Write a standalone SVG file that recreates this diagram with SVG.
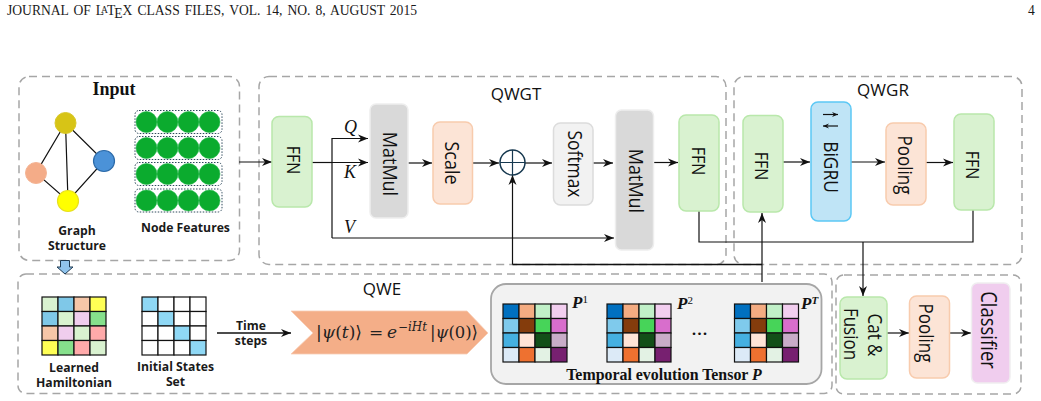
<svg xmlns="http://www.w3.org/2000/svg" xmlns:xlink="http://www.w3.org/1999/xlink" width="1041" height="401" viewBox="0 0 1041 401">
<style>
.hdr{font-family:"Liberation Serif",serif;font-size:13.6px;fill:#1a1a1a}
.panel{fill:none;stroke:#a6a6a6;stroke-width:1.5;stroke-dasharray:8 5}
.title{font-family:"Open Sans",sans-serif;font-size:17px;fill:#111;text-anchor:middle}
.cap{font-family:"Open Sans",sans-serif;font-size:12.2px;font-weight:700;fill:#1a1a1a;text-anchor:middle}
.blk{stroke-width:1.5}
.ffn{fill:#d9f2d0;stroke:#b9e8ab}
.gry{fill:#d9d9d9;stroke:#eeeeee}
.org{fill:#fce4d6;stroke:#f8cbad}
.sft{fill:#f2f2f2;stroke:#dcdcdc}
.gru{fill:#bfe4f6;stroke:#5cc8f5}
.cls{fill:#f0cdee;stroke:#f0eef0}
.rt{font-family:"Open Sans",sans-serif;fill:#111;text-anchor:middle}
.conn{fill:none;stroke:#111;stroke-width:1.2}
.thick{stroke-width:1.7}
.arr{marker-end:url(#a)}
.qkv{font-family:"Liberation Serif",serif;font-style:italic;font-size:18px;fill:#111}
.p{font-family:"Liberation Serif",serif;font-style:italic;font-weight:700;font-size:17px;fill:#111}
.ps{font-size:11px}
.eq{font-family:"DejaVu Serif",serif;font-size:17px;fill:#222}
.eqs{font-family:"DejaVu Serif",serif;font-size:12px;font-style:italic;fill:#222}
.cell{stroke:#111;stroke-width:1.2}
.dot{fill:none;stroke:#2f4a5c;stroke-width:1;stroke-dasharray:1.5 1.5}
.g{fill:#0bab2e;stroke:#22b84a;stroke-width:.6}
.edge{stroke:#111;stroke-width:1.2}
</style>
<defs>
<marker id="a" markerUnits="userSpaceOnUse" markerWidth="12" markerHeight="10" refX="10" refY="5" orient="auto"><path d="M0,1 L10,5 L0,9 L3,5 Z" fill="#111"/></marker>
<marker id="s" markerUnits="userSpaceOnUse" markerWidth="8" markerHeight="6" refX="6" refY="3" orient="auto"><path d="M0,.5 L6,3 L0,5.5 L2,3 Z" fill="#111"/></marker>
<g id="gridT">
<rect class="cell" width="16" height="14.5" fill="#0070c0"/><rect class="cell" x="16" width="16" height="14.5" fill="#f4ac82"/><rect class="cell" x="32" width="16" height="14.5" fill="#c1f0c8"/><rect class="cell" x="48" width="16" height="14.5" fill="#f2ceef"/>
<rect class="cell" y="14.5" width="16" height="14.5" fill="#7fcaec"/><rect class="cell" x="16" y="14.5" width="16" height="14.5" fill="#843c0c"/><rect class="cell" x="32" y="14.5" width="16" height="14.5" fill="#47d459"/><rect class="cell" x="48" y="14.5" width="16" height="14.5" fill="#d86ecc"/>
<rect class="cell" y="29" width="16" height="14.5" fill="#45b0e1"/><rect class="cell" x="16" y="29" width="16" height="14.5" fill="#ffe4d6"/><rect class="cell" x="32" y="29" width="16" height="14.5" fill="#124f18"/><rect class="cell" x="48" y="29" width="16" height="14.5" fill="#c9acc8"/>
<rect class="cell" y="43.5" width="16" height="14.5" fill="#dceaf7"/><rect class="cell" x="16" y="43.5" width="16" height="14.5" fill="#ee7130"/><rect class="cell" x="32" y="43.5" width="16" height="14.5" fill="#e3f2e4"/><rect class="cell" x="48" y="43.5" width="16" height="14.5" fill="#772070"/>
</g>
<g id="row"><rect class="dot" x="135" y="-11.5" width="87" height="23" rx="4"/><circle class="g" cx="146.500" r="10.500"/><circle class="g" cx="167.500" r="10.500"/><circle class="g" cx="188.500" r="10.500"/><circle class="g" cx="209.500" r="10.500"/></g>
</defs>
<rect width="1041" height="401" fill="#fff"/>
<text class="hdr" x="7" y="15" word-spacing="1.6">JOURNAL OF L<tspan font-size="9.5" dx="-3" dy="-2.5">A</tspan><tspan dx="-1" dy="2.500">T</tspan><tspan dx="-1" dy="3">E</tspan><tspan dy="-3">X CLASS FILES, VOL. 14, NO. 8, AUGUST 2015</tspan></text>
<text class="hdr" x="1028" y="15">4</text>

<g id="panels">
<rect class="panel" x="19" y="76.500" width="220.500" height="184" rx="10"/>
<rect class="panel" x="259" y="76.500" width="467" height="188" rx="10"/>
<rect class="panel" x="734" y="76.500" width="288" height="188" rx="10"/>
<rect class="panel" x="18" y="274" width="814" height="119.500" rx="8"/>
<rect class="panel" x="836" y="275" width="185" height="119" rx="8"/>
<text class="title" x="516" y="100">QWGT</text>
<text class="title" x="883" y="96">QWGR</text>
<text class="title" x="382" y="295">QWE</text>
</g>

<g id="input">
<text x="114" y="95" font-family="Liberation Serif,serif" font-size="18" font-weight="700" text-anchor="middle" fill="#111">Input</text>
<g id="graph">
<path class="edge" d="M65.500,123 L36,173 L68,201 L104,161 L65.500,123 L68,201" fill="none"/>
<circle cx="65.500" cy="123" r="10.500" fill="#d7c416" stroke="#d9c82a"/>
<circle cx="36" cy="173" r="10.500" fill="#f4ac88" stroke="#f4b595"/>
<circle cx="104" cy="161" r="10.500" fill="#4b92d8" stroke="#2c6aa8" stroke-width="1.200"/>
<circle cx="68" cy="201" r="10.500" fill="#ffff00" stroke="#e8e020" stroke-width="1.200"/>
<text class="cap" x="77" y="235">Graph</text><text class="cap" x="77" y="250">Structure</text>
</g>
<g id="features">
<use xlink:href="#row" y="122"/><use xlink:href="#row" y="148"/><use xlink:href="#row" y="174"/><use xlink:href="#row" y="200.500"/>
<text class="cap" x="185.500" y="232">Node Features</text>
</g>
</g>

<g id="connectors">
<path class="conn arr" d="M239,162 H272"/>
<path class="conn" d="M312,162.500 H332"/>
<path class="conn arr" d="M332,162.500 H368"/>
<path class="conn arr" d="M332,238 V138.500 H368"/>
<path class="conn arr" d="M332,238 H614"/>
<path class="conn arr" d="M408,163 H432"/>
<path class="conn arr" d="M472,163 H499"/>
<path class="conn arr" d="M525,163 H552"/>
<path class="conn arr" d="M593,163 H613"/>
<path class="conn arr" d="M653,162.500 H678"/>
<path class="conn arr" d="M783,162 H810"/>
<path class="conn arr" d="M851,162 H885"/>
<path class="conn arr" d="M926,162.500 H953"/>
<path class="conn arr" d="M512.500,264.500 V175"/>
<path class="conn thick" d="M512.500,264.500 H762"/>
<path class="conn arr" d="M762,282 V213"/>
<path class="conn" d="M699,211 V242 H973 V210"/>
<path class="conn arr" d="M863,242 V296"/>
<path class="conn arr" d="M887,333 H909"/>
<path class="conn arr" d="M949,333 H971"/>
<path class="conn arr thick" d="M217,333 H291"/>
</g>

<g id="ffn1"><rect class="blk ffn" x="272" y="116.500" width="40" height="90.500" rx="7"/><text class="rt" font-size="16" transform="translate(287,160) rotate(90) scale(1,1.15)">FFN</text></g>
<g id="matmul1"><rect class="blk gry" x="370" y="104" width="38" height="114" rx="6"/><text class="rt" font-size="18" transform="translate(383,164) rotate(90) scale(1,1.15)">MatMul</text></g>
<g id="scale"><rect class="blk org" x="433" y="122" width="39.500" height="82" rx="7"/><text class="rt" font-size="18" transform="translate(445,163) rotate(90) scale(1,1.15)">Scale</text></g>
<g id="add"><circle cx="512.500" cy="162.500" r="12.500" fill="#fff" stroke="#16384f" stroke-width="1.500"/><path d="M500,162.500 H525 M512.500,150 V175" stroke="#16384f" stroke-width="1.200" fill="none"/></g>
<g id="softmax"><rect class="blk sft" x="553.500" y="123" width="39.500" height="82" rx="7"/><text class="rt" font-size="17.400" transform="translate(568,164) rotate(90) scale(1,1.15)">Softmax</text></g>
<g id="matmul2"><rect class="blk gry" x="615.500" y="110" width="38" height="140" rx="6"/><text class="rt" font-size="18" transform="translate(629,181) rotate(90) scale(1,1.15)">MatMul</text></g>
<g id="ffn2"><rect class="blk ffn" x="679" y="115" width="40" height="96" rx="7"/><text class="rt" font-size="16" transform="translate(692,161) rotate(90) scale(1,1.15)">FFN</text></g>
<g id="ffn3"><rect class="blk ffn" x="743" y="115.500" width="40" height="96.500" rx="7"/><text class="rt" font-size="16" transform="translate(755,166) rotate(90) scale(1,1.15)">FFN</text></g>
<g id="bigru"><rect class="blk gru" x="811" y="102" width="40" height="119" rx="7"/><text class="rt" font-size="17.400" transform="translate(824,167) rotate(90) scale(1,1.15)">BiGRU</text>
<path class="conn" marker-end="url(#s)" d="M823,114.500 H838"/><path class="conn" marker-end="url(#s)" d="M838,126 H823"/></g>
<g id="pooling1"><rect class="blk org" x="886" y="123" width="40" height="82" rx="7"/><text class="rt" font-size="17" transform="translate(898,165) rotate(90) scale(1,1.15)">Pooling</text></g>
<g id="ffn4"><rect class="blk ffn" x="954" y="114" width="40" height="96" rx="7"/><text class="rt" font-size="16" transform="translate(966,165) rotate(90) scale(1,1.15)">FFN</text></g>
<g id="catfusion"><rect class="blk ffn" x="840" y="297" width="47" height="82" rx="7"/><text class="rt" font-size="17" transform="translate(868,335) rotate(90) scale(1,1.15)">Cat &amp;</text><text class="rt" font-size="17" transform="translate(844,334) rotate(90) scale(1,1.15)">Fusion</text></g>
<g id="pooling2"><rect class="blk org" x="909.500" y="296" width="40" height="82" rx="7"/><text class="rt" font-size="17" transform="translate(919,333) rotate(90) scale(1,1.15)">Pooling</text></g>
<g id="classifier"><rect class="blk cls" x="971.500" y="283" width="38.500" height="100" rx="6"/><text class="rt" font-size="18.500" transform="translate(981,330) rotate(90) scale(1,1.15)">Classifier</text></g>

<text class="qkv" x="344" y="133">Q</text>
<text class="qkv" x="344" y="178">K</text>
<text class="qkv" x="344" y="233">V</text>

<g id="downarrow"><path d="M60.500,260.500 H69.500 V267 H73 L65,274 L57,267 H60.500 Z" fill="#8fc3ec" stroke="#1f3a52" stroke-width="1"/></g>

<g id="hamiltonian" stroke="#111" stroke-width="1.200">
<rect x="42" y="297" width="16" height="14.500" fill="#d9f2d0"/><rect x="58" y="297" width="16" height="14.500" fill="#7fc8e8"/><rect x="74" y="297" width="16" height="14.500" fill="#f5c6a8"/><rect x="90" y="297" width="16" height="14.500" fill="#ffff55"/>
<rect x="42" y="311.500" width="16" height="14.500" fill="#7fc8e8"/><rect x="58" y="311.500" width="16" height="14.500" fill="#d9f2d0"/><rect x="74" y="311.500" width="16" height="14.500" fill="#f0cdee"/><rect x="90" y="311.500" width="16" height="14.500" fill="#86e08c"/>
<rect x="42" y="326" width="16" height="14.500" fill="#f5c6a8"/><rect x="58" y="326" width="16" height="14.500" fill="#f0cdee"/><rect x="74" y="326" width="16" height="14.500" fill="#d9f2d0"/><rect x="90" y="326" width="16" height="14.500" fill="#ffaaaa"/>
<rect x="42" y="340.500" width="16" height="14.500" fill="#ffff55"/><rect x="58" y="340.500" width="16" height="14.500" fill="#86e08c"/><rect x="74" y="340.500" width="16" height="14.500" fill="#ffaaaa"/><rect x="90" y="340.500" width="16" height="14.500" fill="#d9f2d0"/>
</g>
<text class="cap" x="74" y="372">Learned</text><text class="cap" x="74" y="387">Hamiltonian</text>

<g id="initial" stroke="#111" stroke-width="1.200">
<rect x="142" y="297" width="16" height="14.500" fill="#8fd8f5"/><rect x="158" y="297" width="16" height="14.500" fill="#fff"/><rect x="174" y="297" width="16" height="14.500" fill="#fff"/><rect x="190" y="297" width="16" height="14.500" fill="#fff"/>
<rect x="142" y="311.500" width="16" height="14.500" fill="#fff"/><rect x="158" y="311.500" width="16" height="14.500" fill="#8fd8f5"/><rect x="174" y="311.500" width="16" height="14.500" fill="#fff"/><rect x="190" y="311.500" width="16" height="14.500" fill="#fff"/>
<rect x="142" y="326" width="16" height="14.500" fill="#fff"/><rect x="158" y="326" width="16" height="14.500" fill="#fff"/><rect x="174" y="326" width="16" height="14.500" fill="#8fd8f5"/><rect x="190" y="326" width="16" height="14.500" fill="#fff"/>
<rect x="142" y="340.500" width="16" height="14.500" fill="#fff"/><rect x="158" y="340.500" width="16" height="14.500" fill="#fff"/><rect x="174" y="340.500" width="16" height="14.500" fill="#fff"/><rect x="190" y="340.500" width="16" height="14.500" fill="#8fd8f5"/>
</g>
<text class="cap" x="175.500" y="371">Initial States</text><text class="cap" x="175.500" y="386">Set</text>
<text class="cap" x="251" y="330">Time</text><text class="cap" x="251" y="345">steps</text>

<g id="equation"><path d="M291,311 H467 L488,333 L467,354 H291 L313,333 Z" fill="#f4ae88" stroke="#f8cdb5" stroke-width=".8"/>
<text class="eq" x="316" y="338" textLength="46" lengthAdjust="spacingAndGlyphs">|<tspan font-style="italic">ψ</tspan>(<tspan font-style="italic">t</tspan>)⟩</text>
<text class="eq" x="369" y="338">=</text>
<text class="eq" x="387" y="338" font-style="italic">e</text>
<text class="eqs" x="398" y="331" textLength="29" lengthAdjust="spacingAndGlyphs">−iHt</text>
<text class="eq" x="430" y="338" textLength="48" lengthAdjust="spacingAndGlyphs">|<tspan font-style="italic">ψ</tspan>(0)⟩</text></g>

<g id="tensor"><rect x="491" y="284" width="330.500" height="100" rx="15" fill="#f2f2f2" stroke="#a6a6a6" stroke-width="1.800"/>
<use xlink:href="#gridT" x="503" y="304"/><use xlink:href="#gridT" x="607" y="304"/><use xlink:href="#gridT" x="734.500" y="304"/>
<text class="p" x="572" y="308">P<tspan class="ps" font-style="normal" font-weight="400" dy="-5">1</tspan></text>
<text class="p" x="677" y="309">P<tspan class="ps" font-style="normal" font-weight="400" dy="-5">2</tspan></text>
<text class="p" x="801" y="309">P<tspan class="ps" dy="-5">T</tspan></text>
<text x="699.500" y="335" font-family="Liberation Serif,serif" font-size="22" text-anchor="middle" fill="#111">...</text>
<text x="664" y="380" font-family="Liberation Serif,serif" font-size="15.900" font-weight="700" text-anchor="middle" fill="#111">Temporal evolution Tensor <tspan font-style="italic">P</tspan></text>
</g>
</svg>
